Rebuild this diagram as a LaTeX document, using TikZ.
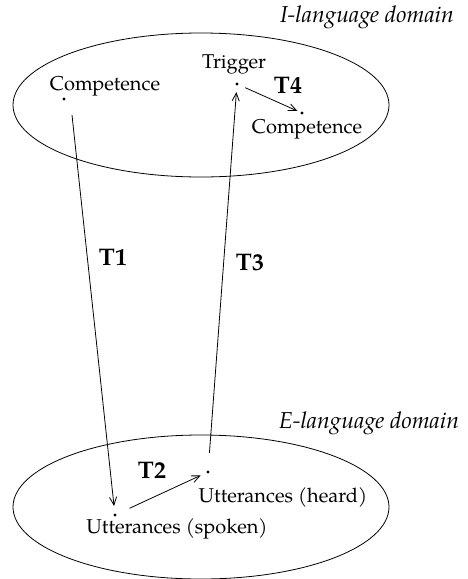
\documentclass[tikz,border=0pt]{standalone}
\usepackage{fontspec}
\setmainfont{TeX Gyre Pagella}
\usetikzlibrary{arrows.meta,positioning,shapes.geometric}
\begin{document}
\begin{tikzpicture}[x=0.5pt,y=-0.5pt,
dot/.style={circle,fill,inner sep=0pt,minimum size=1.7pt},
dom/.style={draw,ellipse,inner sep=0pt,minimum width=188pt,minimum height=72pt},
arr/.style={-{Straight Barb[length=4pt,width=3.6pt]}},
tname/.style={font=\fontsize{12}{14}\selectfont\bfseries},
dname/.style={font=\fontsize{11.5}{14}\selectfont\itshape}]%
\useasboundingbox (0,0) rectangle (467,579);
\node[dom] (idom) at (201,105) {};
\node[dom] (edom) at (201,507) {};
\node[dname] (ilang) at (367,17) {I-language domain};
\node[dname] (elang) at (369,423) {E-language domain};
% points
\node[dot] (comp) at (64,99) {};
\node[dot] (trig) at (237,84) {};
\node[dot] (newcomp) at (302,113) {};
\node[dot] (spoken) at (115,515) {};
\node[dot] (heard) at (208,472) {};
\node (comptxt) at (105,86) {Competence};
\node (trigtxt) at (234,64) {Trigger};
\node (newcomptxt) at (307,129) {Competence};
\node (spokentxt) at (177,529) {Utterances (spoken)};
\node (heardtxt) at (283,497) {Utterances (heard)};
% transitions
\draw[arr,shorten >=3.5pt] ([xshift=4pt,yshift=-8pt]comp.center) -- (spoken);
\draw[arr,shorten <=7pt,shorten >=3pt] (spoken) -- (heard);
\draw[arr,shorten <=8.5pt,shorten >=3pt] (heard) -- (trig);
\draw[arr,shorten <=3.5pt,shorten >=1.5pt] (trig) -- (newcomp);
\node[tname] (t1) at (113,257) {T1};
\node[tname] (t2) at (152,470) {T2};
\node[tname] (t3) at (250,263) {T3};
\node[tname] (t4) at (288,85) {T4};
\end{tikzpicture}
\end{document}
